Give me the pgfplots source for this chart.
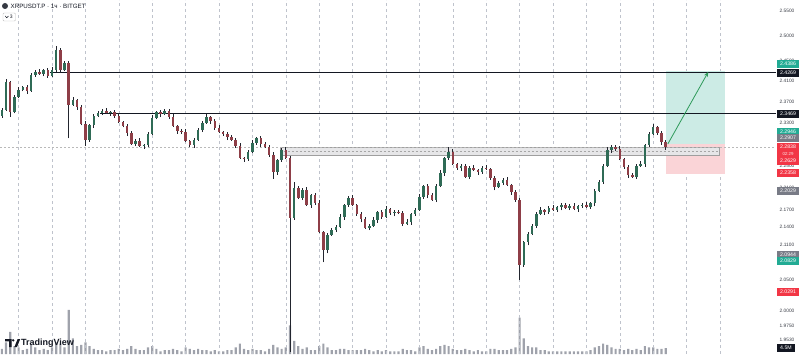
\documentclass[border=0pt]{standalone}
\usepackage{fontspec}
\setmainfont{Liberation Sans}
\usepackage{pgfplots}
\pgfplotsset{compat=1.18}
\usepackage{pgfplotstable}
\usetikzlibrary{arrows.meta}

\definecolor{tvblack}{HTML}{131722}
\definecolor{tvgrid}{HTML}{BFC3CC}
\definecolor{upc}{HTML}{2F6B56}
\definecolor{dnc}{HTML}{8E3E47}
\definecolor{wick}{HTML}{22252E}
\definecolor{tvteal}{HTML}{22AB94}
\definecolor{tvred}{HTML}{F23645}
\definecolor{tvgray}{HTML}{787B86}
\definecolor{tgtfill}{HTML}{CCEBE5}
\definecolor{stopfill}{HTML}{FAD4D7}
\definecolor{zonefill}{HTML}{E6E6E8}
\definecolor{volgray}{HTML}{8E929C}
\definecolor{arrowgreen}{HTML}{2E9A5A}

\pgfplotstableread{
i o h l c v
0 2.3430 2.3566 2.3390 2.3536 4
1 2.3536 2.4127 2.3516 2.4077 9
2 2.4077 2.4097 2.3403 2.3498 17
3 2.3498 2.3826 2.3468 2.3786 6
4 2.3786 2.3981 2.3766 2.3921 5
5 2.3921 2.3999 2.3891 2.3979 3
6 2.3979 2.4009 2.3842 2.3902 4
7 2.3902 2.4254 2.3882 2.4214 7
8 2.4214 2.4303 2.4174 2.4273 5
9 2.4273 2.4323 2.4214 2.4234 3
10 2.4234 2.4332 2.4184 2.4312 4
11 2.4312 2.4352 2.4164 2.4194 3
12 2.4194 2.4372 2.4174 2.4312 5
13 2.4312 2.4790 2.4282 2.4710 9
14 2.4710 2.4740 2.4252 2.4312 8
15 2.4312 2.4491 2.4292 2.4451 5
16 2.4451 2.4481 2.3000 2.3632 34
17 2.3632 2.3778 2.3612 2.3728 12
18 2.3728 2.3748 2.3544 2.3594 6
19 2.3594 2.3634 2.3241 2.3271 7
20 2.3271 2.3331 2.2860 2.2971 9
21 2.2971 2.3272 2.2941 2.3252 6
22 2.3252 2.3452 2.3192 2.3422 4
23 2.3422 2.3519 2.3402 2.3479 3
24 2.3479 2.3547 2.3439 2.3517 3
25 2.3517 2.3567 2.3459 2.3479 2
26 2.3479 2.3518 2.3429 2.3498 3
27 2.3498 2.3538 2.3392 2.3422 3
28 2.3422 2.3482 2.3288 2.3308 4
29 2.3308 2.3328 2.3203 2.3233 3
30 2.3233 2.3263 2.3041 2.3101 4
31 2.3101 2.3141 2.2876 2.2896 6
32 2.2896 2.2982 2.2856 2.2952 4
33 2.2952 2.3002 2.2839 2.2859 3
34 2.2859 2.2898 2.2809 2.2878 3
35 2.2878 2.3122 2.2848 2.3082 5
36 2.3082 2.3444 2.3062 2.3384 6
37 2.3384 2.3518 2.3354 2.3498 4
38 2.3498 2.3528 2.3400 2.3460 2
39 2.3460 2.3557 2.3440 2.3517 3
40 2.3517 2.3547 2.3363 2.3403 3
41 2.3403 2.3453 2.3213 2.3233 4
42 2.3233 2.3253 2.3089 2.3139 3
43 2.3139 2.3179 2.3090 2.3120 2
44 2.3120 2.3180 2.2932 2.2952 5
45 2.2952 2.2972 2.2848 2.2878 4
46 2.2878 2.3001 2.2818 2.2971 3
47 2.2971 2.3198 2.2951 2.3158 4
48 2.3158 2.3320 2.3118 2.3290 3
49 2.3290 2.3453 2.3270 2.3403 3
50 2.3403 2.3423 2.3277 2.3327 2
51 2.3327 2.3367 2.3165 2.3195 3
52 2.3195 2.3255 2.3100 2.3120 2
53 2.3120 2.3140 2.3052 2.3082 2
54 2.3082 2.3112 2.2966 2.3026 3
55 2.3026 2.3066 2.2951 2.2971 3
56 2.2971 2.3001 2.2819 2.2859 5
57 2.2859 2.2909 2.2618 2.2638 8
58 2.2638 2.2658 2.2570 2.2620 4
59 2.2620 2.2788 2.2590 2.2748 3
60 2.2748 2.2975 2.2728 2.2915 4
61 2.2915 2.3028 2.2885 2.3008 3
62 2.3008 2.3038 2.2836 2.2896 3
63 2.2896 2.2936 2.2820 2.2840 2
64 2.2840 2.2870 2.2653 2.2693 4
65 2.2693 2.2743 2.2260 2.2382 7
66 2.2382 2.2621 2.2332 2.2601 5
67 2.2601 2.2825 2.2571 2.2785 4
68 2.2785 2.2845 2.2618 2.2638 5
69 2.2638 2.2668 1.9350 2.1563 22
70 2.1563 2.2200 2.1533 2.2094 10
71 2.2094 2.2134 2.1895 2.1915 6
72 2.1915 2.2088 2.1875 2.2058 4
73 2.2058 2.2108 2.1771 2.1791 5
74 2.1791 2.1988 2.1741 2.1968 3
75 2.1968 2.2008 2.1796 2.1826 3
76 2.1826 2.1886 2.1299 2.1319 6
77 2.1319 2.1339 2.0800 2.1010 8
78 2.1010 2.1297 2.0950 2.1267 5
79 2.1267 2.1394 2.1247 2.1354 3
80 2.1354 2.1436 2.1314 2.1406 3
81 2.1406 2.1630 2.1386 2.1580 4
82 2.1580 2.1811 2.1530 2.1791 4
83 2.1791 2.1955 2.1761 2.1915 3
84 2.1915 2.1975 2.1771 2.1791 3
85 2.1791 2.1811 2.1603 2.1633 3
86 2.1633 2.1663 2.1485 2.1545 3
87 2.1545 2.1585 2.1368 2.1388 4
88 2.1388 2.1453 2.1348 2.1423 3
89 2.1423 2.1578 2.1403 2.1528 2
90 2.1528 2.1688 2.1478 2.1668 3
91 2.1668 2.1708 2.1550 2.1580 2
92 2.1580 2.1780 2.1560 2.1720 3
93 2.1720 2.1740 2.1620 2.1650 2
94 2.1650 2.1698 2.1590 2.1668 2
95 2.1668 2.1708 2.1630 2.1650 2
96 2.1650 2.1680 2.1418 2.1458 4
97 2.1458 2.1543 2.1438 2.1493 3
98 2.1493 2.1653 2.1443 2.1633 3
99 2.1633 2.1743 2.1603 2.1703 2
100 2.1703 2.1993 2.1683 2.1933 5
101 2.1933 2.2149 2.1903 2.2129 6
102 2.2129 2.2159 2.1908 2.1968 4
103 2.1968 2.2008 2.1860 2.1880 3
104 2.1880 2.2159 2.1840 2.2129 4
105 2.2129 2.2414 2.2109 2.2364 6
106 2.2364 2.2658 2.2314 2.2638 7
107 2.2638 2.2830 2.2608 2.2748 6
108 2.2748 2.2808 2.2508 2.2528 4
109 2.2528 2.2548 2.2425 2.2455 3
110 2.2455 2.2521 2.2395 2.2491 3
111 2.2491 2.2531 2.2271 2.2291 4
112 2.2291 2.2485 2.2251 2.2455 3
113 2.2455 2.2505 2.2398 2.2418 2
114 2.2418 2.2438 2.2332 2.2382 3
115 2.2382 2.2495 2.2352 2.2455 2
116 2.2455 2.2515 2.2420 2.2440 2
117 2.2440 2.2460 2.2243 2.2273 4
118 2.2273 2.2303 2.2051 2.2111 4
119 2.2111 2.2223 2.2091 2.2183 3
120 2.2183 2.2267 2.2143 2.2237 3
121 2.2237 2.2287 2.2127 2.2147 3
122 2.2147 2.2167 2.1972 2.2022 4
123 2.2022 2.2062 2.1850 2.1880 5
124 2.1880 2.1910 2.0505 2.0756 28
125 2.0756 2.1167 2.0726 2.1147 12
126 2.1147 2.1315 2.1087 2.1285 6
127 2.1285 2.1463 2.1265 2.1423 5
128 2.1423 2.1663 2.1383 2.1633 5
129 2.1633 2.1753 2.1613 2.1703 3
130 2.1703 2.1723 2.1618 2.1668 3
131 2.1668 2.1778 2.1638 2.1738 2
132 2.1738 2.1798 2.1683 2.1703 2
133 2.1703 2.1775 2.1673 2.1755 2
134 2.1755 2.1821 2.1695 2.1791 2
135 2.1791 2.1831 2.1718 2.1738 2
136 2.1738 2.1803 2.1698 2.1773 2
137 2.1773 2.1823 2.1700 2.1720 2
138 2.1720 2.1793 2.1670 2.1773 2
139 2.1773 2.1831 2.1743 2.1791 2
140 2.1791 2.1851 2.1735 2.1755 2
141 2.1755 2.1846 2.1725 2.1826 3
142 2.1826 2.2070 2.1766 2.2040 5
143 2.2040 2.2241 2.2020 2.2201 6
144 2.2201 2.2521 2.2161 2.2491 8
145 2.2491 2.2835 2.2471 2.2785 7
146 2.2785 2.2880 2.2735 2.2840 5
147 2.2840 2.2880 2.2773 2.2803 4
148 2.2803 2.2863 2.2599 2.2619 4
149 2.2619 2.2639 2.2443 2.2473 3
150 2.2473 2.2503 2.2268 2.2328 4
151 2.2328 2.2368 2.2271 2.2291 3
152 2.2291 2.2521 2.2251 2.2491 4
153 2.2491 2.2578 2.2471 2.2528 3
154 2.2528 2.2898 2.2478 2.2878 6
155 2.2878 2.3122 2.2848 2.3082 5
156 2.3082 2.3270 2.3062 2.3214 5
157 2.3214 2.3234 2.3071 2.3101 4
158 2.3101 2.3131 2.2873 2.2933 4
159 2.2933 2.2973 2.2790 2.2838 4.5
}\candles

\newcommand{\plab}[3]{\node[fill=#2, text=white, font=\fontsize{5.2}{6}\selectfont, inner sep=0pt, minimum width=22pt, minimum height=7.6pt] at (788pt,{354pt-#1pt}) {#3};}

\begin{document}
\begin{tikzpicture}
% volume pane (overlay at the bottom)
\begin{axis}[at={(0pt,0pt)}, anchor=south west, scale only axis,
  width=776pt, height=354pt, xmin=-0.455, xmax=185.41, ymin=0, ymax=272,
  hide axis]
\addplot[ybar, bar width=2.2pt, fill=volgray, draw=none, fill opacity=0.85] table[x=i, y=v] {\candles};
\end{axis}
% price pane
\begin{axis}[at={(0pt,0pt)}, anchor=south west, scale only axis,
  width=776pt, height=354pt, xmin=-0.455, xmax=185.41,
  ymode=log, ymin=1.93106, ymax=2.57326,
  axis line style={draw=none},
  xtick={4,12,...,172}, xticklabels={}, xmajorgrids,
  grid style={draw=tvgrid, dash pattern=on 3pt off 3pt, line width=0.5pt},
  major tick length=0pt,
  ytick={2.55,2.5,2.45,2.41,2.37,2.33,2.25,2.21,2.17,2.14,2.11,2.05,2.0,1.975,1.953},
  yticklabels={2.5500,2.5000,2.4500,2.4100,2.3700,2.3300,2.2500,2.2100,2.1700,2.1400,2.1100,2.0500,2.0000,1.9750,1.9530},
  yticklabel pos=right,
  yticklabel style={anchor=center, xshift=11pt, font=\fontsize{4.8}{5}\selectfont, text=tvblack!85},
  candle/.style={draw=none, mark=none, forget plot, mark options={draw=none, fill=none}},
]
% long position tool
\fill[tgtfill] (axis cs:159.07,2.2890) rectangle (axis cs:173.2,2.4300);
\fill[stopfill] (axis cs:159.07,2.2342) rectangle (axis cs:173.2,2.2890);
% grey zone
\filldraw[fill=zonefill, draw=gray!75, line width=0.6pt] (axis cs:66.6,2.2692) rectangle (axis cs:171.8,2.2833);
\draw[gray!70, dash pattern=on 2pt off 2pt, line width=0.5pt] (axis cs:66.6,2.2768) -- (axis cs:171.8,2.2768);
% horizontal levels
\addplot[tvblack, line width=0.9pt, forget plot] coordinates {(11.5,2.4269) (185.41,2.4269)};
\addplot[tvblack, line width=0.9pt, forget plot] coordinates {(23.5,2.3469) (185.41,2.3469)};
% current price line
\addplot[gray!55, dash pattern=on 2pt off 2pt, line width=0.5pt, forget plot] coordinates {(-0.455,2.2838) (185.41,2.2838)};
% wicks
\addplot[candle,
  error bars/.cd, y dir=plus, y explicit, error mark=none,
  error bar style={draw=wick, line width=0.7pt}]
  table[x=i, y=l, y error expr=\thisrow{h}-\thisrow{l}] {\candles};
% up bodies
\addplot[candle,
  restrict expr to domain={\thisrow{c}-\thisrow{o}}{0:1},
  error bars/.cd, y dir=plus, y explicit, error mark=none,
  error bar style={draw=upc, line width=2.5pt}]
  table[x=i, y=o, y error expr=\thisrow{c}-\thisrow{o}] {\candles};
% down bodies
\addplot[candle,
  restrict expr to domain={\thisrow{o}-\thisrow{c}}{0.00001:1},
  error bars/.cd, y dir=plus, y explicit, error mark=none,
  error bar style={draw=dnc, line width=2.5pt}]
  table[x=i, y=c, y error expr=\thisrow{o}-\thisrow{c}] {\candles};
% projection arrow
\draw[-{Stealth[length=5pt,width=4pt]}, arrowgreen, line width=0.8pt] (axis cs:159.5,2.2895) -- (axis cs:169.2,2.4275);
\end{axis}

% price scale labels
\plab{64}{tvteal}{2.4386}
\plab{73}{tvblack}{2.4269}
\plab{114}{tvblack}{2.3469}
\plab{132}{tvteal}{2.2946}
\plab{138}{tvgray}{2.2907}
\fill[tvred] (777pt,{354pt-143pt}) rectangle (799pt,{354pt-164.5pt});
\node[text=white, font=\fontsize{5.2}{6}\selectfont, inner sep=0pt] at (788pt,{354pt-147pt}) {2.2838};
\node[text=white!85!tvred, font=\fontsize{4.4}{5}\selectfont, inner sep=0pt] at (788pt,{354pt-153.5pt}) {02:29};
\node[text=white, font=\fontsize{5.2}{6}\selectfont, inner sep=0pt] at (788pt,{354pt-160.5pt}) {2.2629};
\plab{173}{tvred}{2.2358}
\plab{191}{tvgray}{2.2029}
\plab{255}{tvgray}{2.0944}
\plab{261}{tvteal}{2.0829}
\plab{292}{tvred}{2.0291}
\node[fill=tvblack, text=white, font=\fontsize{5.2}{6}\selectfont, inner sep=0pt, minimum width=18pt, minimum height=7.6pt] at (786pt,{354pt-348pt}) {4.5M};

% title
\fill[tvblack!85] (5pt,348pt) circle (3pt);
\node[anchor=west, inner sep=0pt, font=\fontsize{6.2}{7}\selectfont, text=tvblack] at (10.5pt,348pt) {XRPUSDT.P · 1ч · BITGET};
\draw[gray!50, rounded corners=1pt, line width=0.4pt] (3pt,333pt) rectangle (15.5pt,341pt);
\draw[tvblack, line width=0.5pt] (5.2pt,338pt) -- (6.8pt,336.2pt) -- (8.4pt,338pt);
\node[anchor=west, inner sep=0pt, font=\fontsize{5}{6}\selectfont, text=tvblack] at (9.6pt,337pt) {3};

% TradingView logo
\fill[tvblack] (5pt,15pt) -- (11.6pt,15pt) -- (11.6pt,7pt) -- (9.2pt,7pt) -- (9.2pt,12.6pt) -- (5pt,12.6pt) -- cycle;
\fill[tvblack] (13.2pt,13.7pt) circle (1.3pt);
\fill[tvblack] (14.4pt,7pt) -- (17.6pt,15pt) -- (20.2pt,15pt) -- (17pt,7pt) -- cycle;
\node[anchor=west, inner sep=0pt, font=\fontsize{9}{10}\selectfont\bfseries, text=tvblack] at (20.8pt,11pt) {TradingView};

\pgfresetboundingbox
\useasboundingbox (0pt,0pt) rectangle (800pt,354pt);
\end{tikzpicture}
\end{document}
